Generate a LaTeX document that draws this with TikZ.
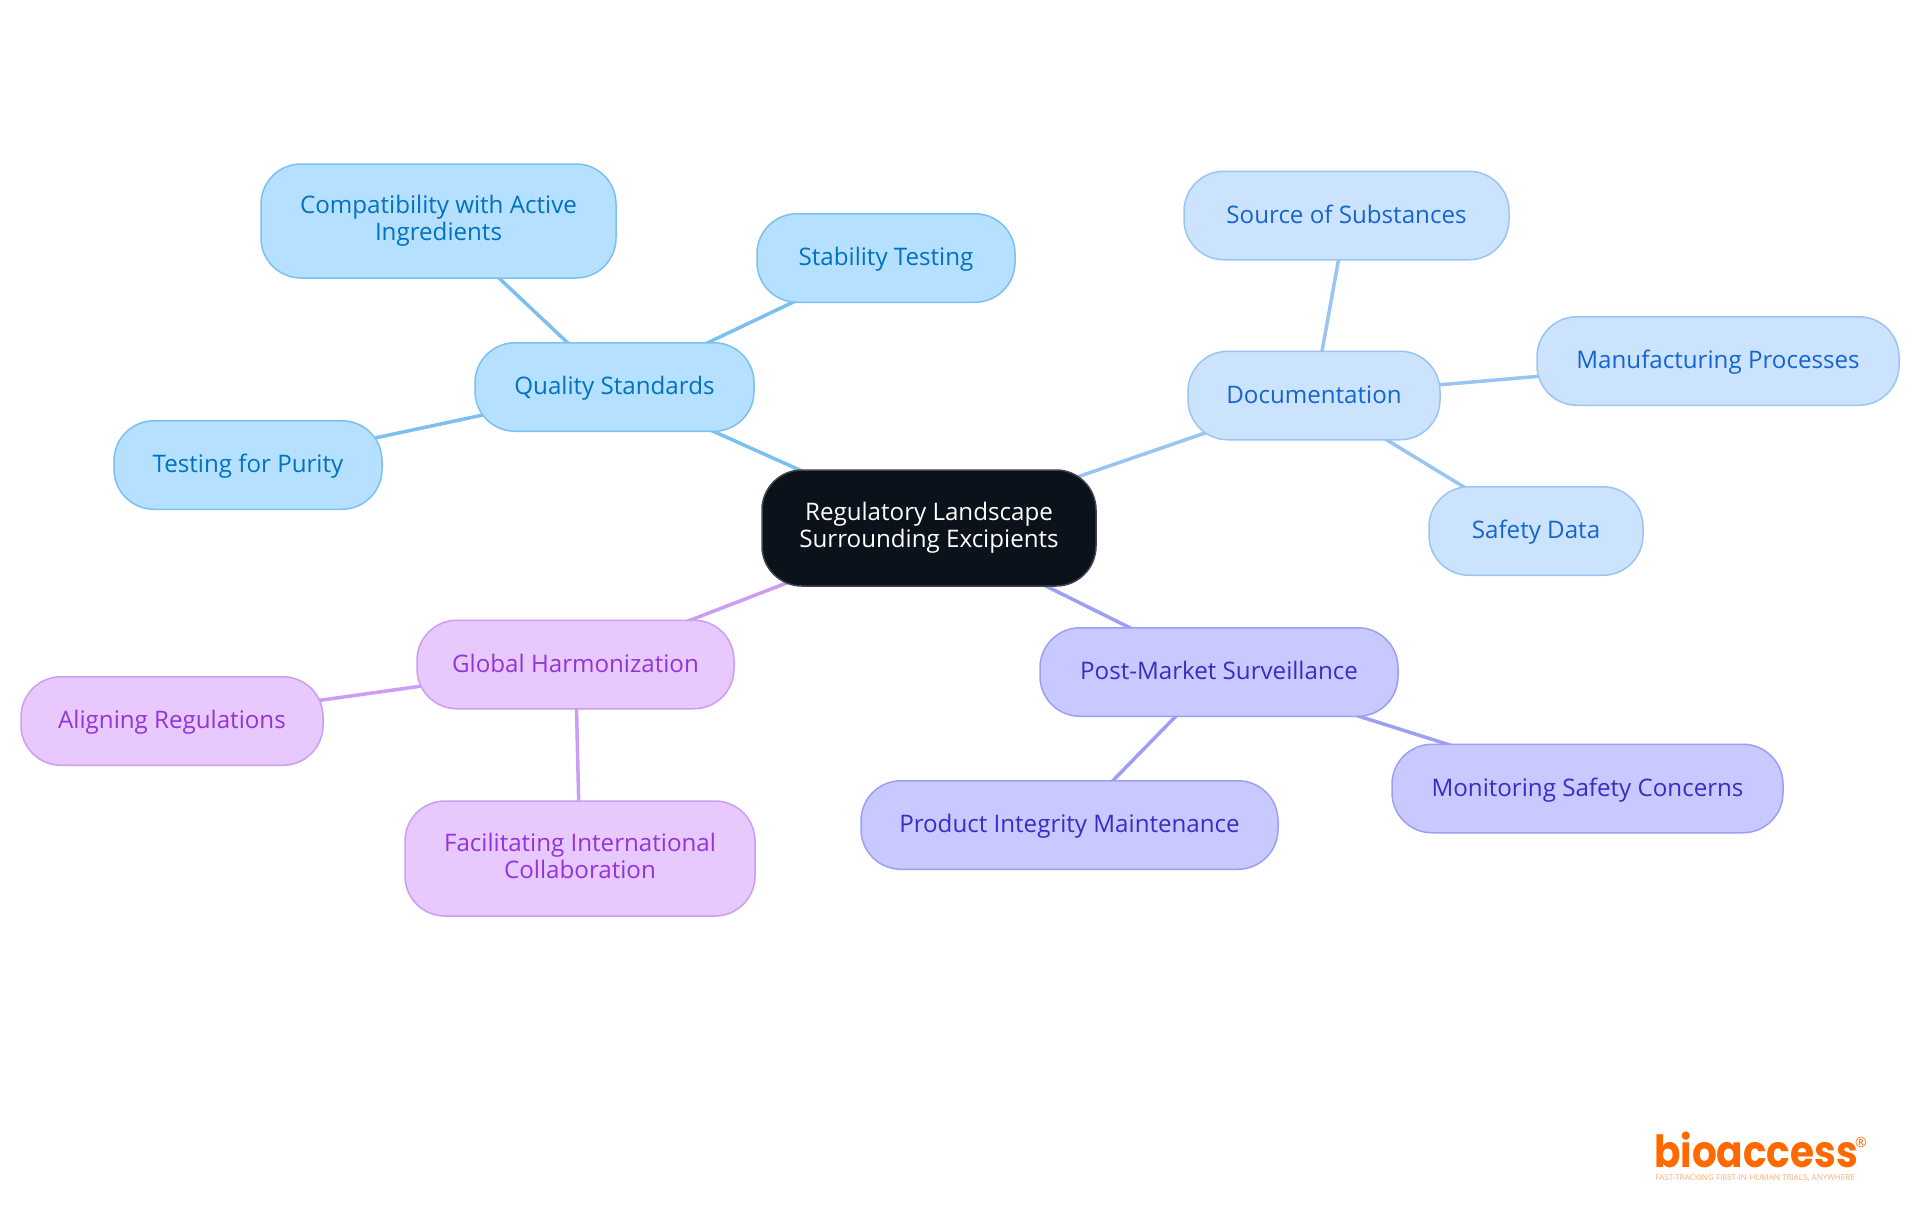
\documentclass[tikz,border=0pt]{standalone}
\usepackage{fontspec}
\setmainfont{Open Sans}
\newfontfamily\logofont[FakeStretch=0.88]{Poppins}
\usetikzlibrary{backgrounds}
\definecolor{rootfill}{HTML}{0B121B}
\definecolor{rootdraw}{HTML}{3F444B}
\definecolor{skyfill}{HTML}{B5E0FF}
\definecolor{skydraw}{HTML}{7CC0F0}
\definecolor{skytext}{HTML}{0072BF}
\definecolor{bluefill}{HTML}{CCE3FD}
\definecolor{bluedraw}{HTML}{9AC4F3}
\definecolor{bluetext}{HTML}{1565CF}
\definecolor{indigofill}{HTML}{C8C9FE}
\definecolor{indigodraw}{HTML}{9D9FF3}
\definecolor{indigotext}{HTML}{3A2CC4}
\definecolor{purplefill}{HTML}{E7C9FE}
\definecolor{purpledraw}{HTML}{CB9DF3}
\definecolor{purpletext}{HTML}{9333D8}
\definecolor{logoorange}{HTML}{FF6A00}
\tikzstyle{topic} = [rectangle,
rounded corners=0.4cm,
minimum height=0.885cm,
inner sep=0pt,
align=center,
line width=0.015cm,
execute at begin node=\rule{0pt}{0.21cm},
execute at end node=\vphantom{Tgy},
font=\fontsize{6.87pt}{7.6pt}\selectfont]
\tikzstyle{root} = [topic, draw=rootdraw, fill=rootfill, text=white]
\tikzstyle{sky} = [topic, draw=skydraw, fill=skyfill, text=skytext]
\tikzstyle{blue} = [topic, draw=bluedraw, fill=bluefill, text=bluetext]
\tikzstyle{indigo} = [topic, draw=indigodraw, fill=indigofill, text=indigotext]
\tikzstyle{purple} = [topic, draw=purpledraw, fill=purplefill, text=purpletext]
\tikzstyle{link} = [line width=0.035cm]
\begin{document}
\begin{tikzpicture}[y=-1cm]
    \useasboundingbox (0,0) rectangle (19.2,12.15);

    \node (regulatory) [root, minimum width=3.34cm, minimum height=1.16cm] at (9.29,5.28) {Regulatory Landscape\\Surrounding Excipients};

    \node (quality) [sky, minimum width=2.79cm] at (6.145,3.87) {Quality Standards};
    \node (compat) [sky, minimum width=3.55cm, minimum height=1.14cm] at (4.385,2.21) {Compatibility with Active\\Ingredients};
    \node (stability) [sky, minimum width=2.58cm] at (8.86,2.58) {Stability Testing};
    \node (purity) [sky, minimum width=2.68cm] at (2.48,4.65) {Testing for Purity};

    \node (documentation) [blue, minimum width=2.52cm] at (13.14,3.955) {Documentation};
    \node (source) [blue, minimum width=3.25cm] at (13.465,2.155) {Source of Substances};
    \node (manufacturing) [blue, minimum width=3.62cm] at (17.18,3.61) {Manufacturing Processes};
    \node (safety) [blue, minimum width=2.14cm] at (15.36,5.31) {Safety Data};

    \node (surveillance) [indigo, minimum width=3.58cm] at (12.19,6.72) {Post-Market Surveillance};
    \node (monitoring) [indigo, minimum width=3.91cm] at (15.875,7.885) {Monitoring Safety Concerns};
    \node (integrity) [indigo, minimum width=4.17cm] at (10.695,8.25) {Product Integrity Maintenance};

    \node (harmonization) [purple, minimum width=3.17cm] at (5.755,6.645) {Global Harmonization};
    \node (aligning) [purple, minimum width=3.02cm] at (1.72,7.21) {Aligning Regulations};
    \node (collaboration) [purple, minimum width=3.5cm, minimum height=1.15cm] at (5.8,8.585) {Facilitating International\\Collaboration};

    % logo
    \node (logo) [text=logoorange, inner sep=0pt, font=\logofont\bfseries\fontsize{12.6pt}{13pt}\selectfont] at (17.56,11.5) {bioaccess};
    \node (logomark) [text=logoorange, inner sep=0pt, font=\fontsize{4pt}{4pt}\selectfont] at (18.61,11.42) {®};
    \node (tagline) [text=logoorange!55, inner sep=0pt, font=\fontsize{2.3pt}{3pt}\selectfont] at (17.55,11.78) {FAST-TRACKING FIRST-IN-HUMAN TRIALS, ANYWHERE};

    \begin{scope}[on background layer]
        \draw [link, skydraw] (regulatory.center) -- (quality.center);
        \draw [link, skydraw] (quality.center) -- (compat.center);
        \draw [link, skydraw] (quality.center) -- (stability.center);
        \draw [link, skydraw] (quality.center) -- (purity.center);
        \draw [link, bluedraw] (regulatory.center) -- (documentation.center);
        \draw [link, bluedraw] (documentation.center) -- (source.center);
        \draw [link, bluedraw] (documentation.center) -- (manufacturing.center);
        \draw [link, bluedraw] (documentation.center) -- (safety.center);
        \draw [link, indigodraw] (regulatory.center) -- (surveillance.center);
        \draw [link, indigodraw] (surveillance.center) -- (monitoring.center);
        \draw [link, indigodraw] (surveillance.center) -- (integrity.center);
        \draw [link, purpledraw] (regulatory.center) -- (harmonization.center);
        \draw [link, purpledraw] (harmonization.center) -- (aligning.center);
        \draw [link, purpledraw] (harmonization.center) -- (collaboration.center);
    \end{scope}
\end{tikzpicture}
\end{document}
